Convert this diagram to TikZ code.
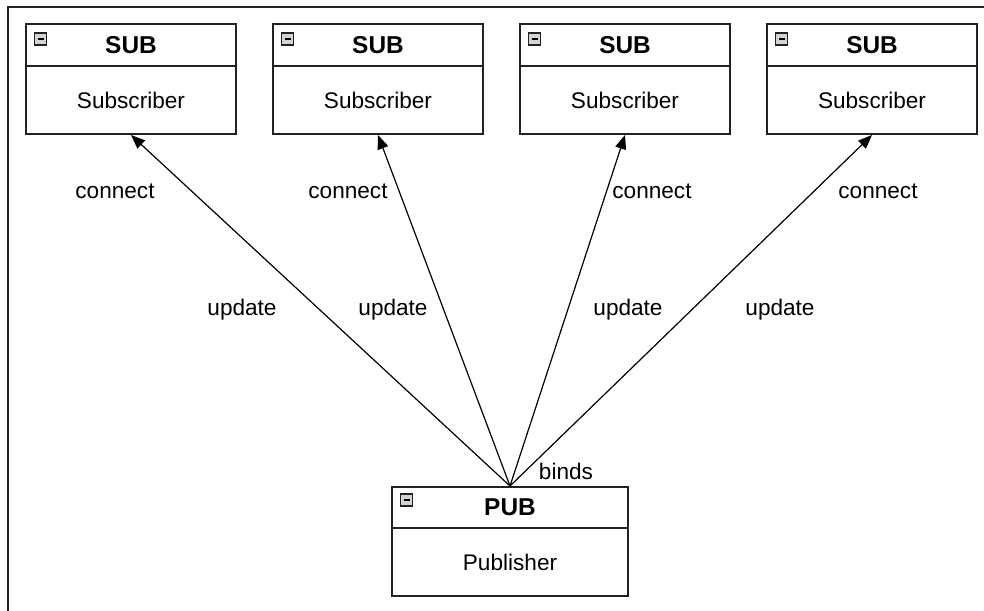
\documentclass[tikz,border=0pt]{standalone}
\usepackage{fontspec}
\setmainfont{Liberation Sans}
\usetikzlibrary{arrows.meta}
\definecolor{edge}{HTML}{222222}
\definecolor{icongray}{HTML}{D4D4D4}
\begin{document}
\begin{tikzpicture}[x=0.5pt,y=-0.5pt,
  hdr/.style={draw=edge, line width=1pt, minimum width=105pt, minimum height=21pt, inner sep=0pt, font=\bfseries\fontsize{12.2}{14}\selectfont},
  bdy/.style={draw=edge, line width=1pt, minimum width=105pt, minimum height=34pt, inner sep=0pt, font=\fontsize{11.3}{13}\selectfont},
  phdr/.style={hdr, minimum width=118pt, minimum height=20.5pt},
  pbdy/.style={bdy, minimum width=118pt},
  icon/.style={draw=edge, line width=0.7pt, fill=icongray, minimum width=6pt, minimum height=6pt, inner sep=0pt},
  minusbar/.style={line width=1.1pt, black},
  lbl/.style={font=\fontsize{11.3}{13}\selectfont, inner sep=0pt},
  arr/.style={line width=0.6pt, -{Triangle[length=7pt,width=5.5pt]}},
  frame/.style={draw=edge, line width=1pt}
]
\useasboundingbox (0,0) rectangle (984,610);
\draw[frame] (8,612) -- (8,7) -- (986,7);

% subscriber boxes
\foreach \i/\cx in {1/131,2/378,3/625,4/872}{
  \node[hdr] (h\i) at (\cx,45) {SUB};
  \node[bdy] (b\i) at (\cx,100) {Subscriber};
  \node[icon] (ic\i) at ([xshift=7.75pt,yshift=-8pt]h\i.north west) {};
  \draw[minusbar] ([xshift=-1.5pt]ic\i.center) -- ([xshift=1.5pt]ic\i.center);
}

% publisher box
\node[phdr] (ph) at (510,507.5) {PUB};
\node[pbdy] (pb) at (510,562) {Publisher};
\node[icon] (icp) at ([xshift=7.75pt,yshift=-7pt]ph.north west) {};
\draw[minusbar] ([xshift=-1.5pt]icp.center) -- ([xshift=1.5pt]icp.center);

% connectors
\foreach \i in {1,2,3,4}{
  \draw[arr] (ph.north) -- (b\i.south);
}

% labels
\node[lbl] (c1) at (115,191) {connect};
\node[lbl] (c2) at (348,191) {connect};
\node[lbl] (c3) at (652,191) {connect};
\node[lbl] (c4) at (878,191) {connect};
\node[lbl] (u1) at (242,310) {update};
\node[lbl] (u2) at (393,310) {update};
\node[lbl] (u3) at (628,310) {update};
\node[lbl] (u4) at (780,310) {update};
\node[lbl] (bd) at (566,471) {binds};
\end{tikzpicture}
\end{document}
